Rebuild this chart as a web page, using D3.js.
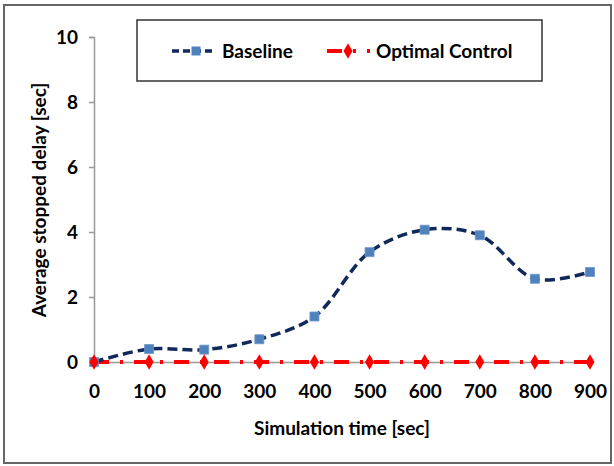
<!DOCTYPE html>
<html>
<head>
<meta charset="utf-8">
<script src="https://cdn.jsdelivr.net/npm/d3@7"></script>
<style>
  body { margin: 0; background: #fff; }
  svg { display: block; font-family: Lato, "Open Sans", sans-serif; }
</style>
</head>
<body>
<svg width="614" height="466"></svg>
<script>
// data
var times = [0, 100, 200, 300, 400, 500, 600, 700, 800, 900];
var baseline = [0, 0.4, 0.38, 0.7, 1.4, 3.38, 4.07, 3.9, 2.56, 2.77];
var optimal = [0, 0, 0, 0, 0, 0, 0, 0, 0, 0];
var yTicks = [0, 2, 4, 6, 8, 10];

var svg = d3.select("svg");

// outer frame
svg.append("rect")
  .attr("x", 4).attr("y", 5).attr("width", 607).attr("height", 458)
  .attr("fill", "none").attr("stroke", "#666").attr("stroke-width", 2);

var x = d3.scaleLinear([0, 900], [94, 590]);
var y = d3.scaleLinear([0, 10], [362, 37]);

// y axis
var yAxis = svg.append("g")
  .attr("transform", "translate(94,0)")
  .call(d3.axisLeft(y).tickValues(yTicks).tickSize(5).tickPadding(11));
// x axis
var xAxis = svg.append("g")
  .attr("transform", "translate(0," + y(0) + ")")
  .call(d3.axisBottom(x).tickValues(times).tickSize(5).tickPadding(18));

[yAxis, xAxis].forEach(function (g) {
  g.select(".domain").attr("stroke", "#999").attr("stroke-width", 1.5);
  g.selectAll(".tick line").attr("stroke", "#999").attr("stroke-width", 1.5);
  g.selectAll(".tick text")
    .attr("fill", "#000")
    .style("font-size", "19px")
    .style("font-weight", "bold")
    .style("font-family", "Lato, sans-serif");
});

// axis titles
svg.append("text")
  .attr("x", 342).attr("y", 435)
  .attr("text-anchor", "middle")
  .style("font-size", "19px").style("font-weight", "bold")
  .text("Simulation time [sec]");

svg.append("text")
  .attr("transform", "translate(46,200) rotate(-90)")
  .attr("text-anchor", "middle")
  .style("font-size", "19px").style("font-weight", "bold")
  .text("Average stopped delay [sec]");

var line = d3.line()
  .x(function (d, i) { return x(times[i]); })
  .y(function (d) { return y(d); });

// optimal control series
svg.append("path")
  .datum(optimal)
  .attr("d", line.curve(d3.curveLinear))
  .attr("fill", "none")
  .attr("stroke", "#ff0000")
  .attr("stroke-width", 4)
  .attr("stroke-dasharray", "15,11,3,11");

// baseline series
svg.append("path")
  .datum(baseline)
  .attr("d", line.curve(d3.curveCatmullRom.alpha(0.5)))
  .attr("fill", "none")
  .attr("stroke", "#10295a")
  .attr("stroke-width", 3.5)
  .attr("stroke-dasharray", "10,5");

var square = d3.symbol().type(d3.symbolSquare).size(81);
var diamond = d3.symbol().type(d3.symbolDiamond).size(70);

svg.selectAll(".bm")
  .data(baseline)
  .enter().append("path")
  .attr("class", "bm")
  .attr("d", square)
  .attr("transform", function (d, i) { return "translate(" + x(times[i]) + "," + y(d) + ")"; })
  .attr("fill", "#4f81bd")
  .attr("stroke", "#6d95c8").attr("stroke-width", 0.8);

svg.selectAll(".om")
  .data(optimal)
  .enter().append("path")
  .attr("class", "om")
  .attr("d", diamond)
  .attr("transform", function (d, i) { return "translate(" + x(times[i]) + "," + y(d) + ")"; })
  .attr("fill", "#ff0000");

// legend
var legend = svg.append("g");
legend.append("rect")
  .attr("x", 137).attr("y", 20).attr("width", 405).attr("height", 61)
  .attr("fill", "#fff").attr("stroke", "#333").attr("stroke-width", 1.5);

legend.append("line")
  .attr("x1", 172).attr("x2", 216).attr("y1", 51).attr("y2", 51)
  .attr("stroke", "#10295a").attr("stroke-width", 3.5)
  .attr("stroke-dasharray", "7,4");
legend.append("path")
  .attr("d", square)
  .attr("transform", "translate(196,51)")
  .attr("fill", "#4f81bd");
legend.append("text")
  .attr("x", 222).attr("y", 58)
  .style("font-size", "19px").style("font-weight", "bold")
  .text("Baseline");

legend.append("line")
  .attr("x1", 327).attr("x2", 370).attr("y1", 51).attr("y2", 51)
  .attr("stroke", "#ff0000").attr("stroke-width", 4)
  .attr("stroke-dasharray", "15,11,3,11");
legend.append("path")
  .attr("d", diamond)
  .attr("transform", "translate(348,51)")
  .attr("fill", "#ff0000");
legend.append("text")
  .attr("x", 376).attr("y", 58)
  .style("font-size", "19px").style("font-weight", "bold")
  .text("Optimal Control");
</script>
</body>
</html>
